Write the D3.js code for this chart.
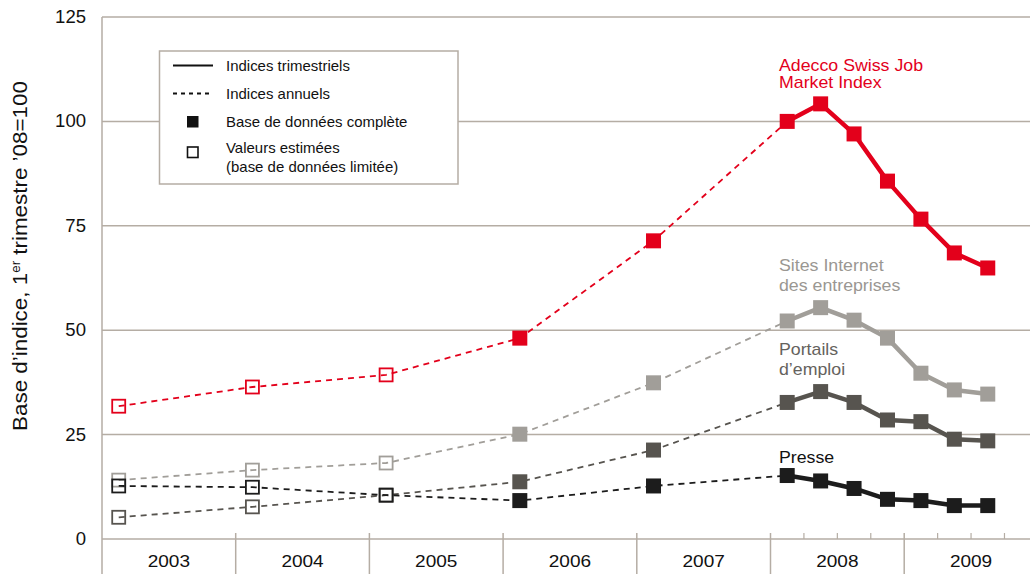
<!DOCTYPE html>
<html>
<head>
<meta charset="utf-8">
<script src="https://cdn.jsdelivr.net/npm/d3@7"></script>
<style>
  body { margin: 0; background: #fff; }
  svg { display: block; font-family: "Liberation Sans", Arial, sans-serif; }
</style>
</head>
<body>
<svg width="1030" height="574"></svg>
<script>
var years = [2003, 2004, 2005, 2006, 2007, 2008, 2009];
var annualYears = [2003, 2004, 2005, 2006, 2007];
var annualEstimated = [true, true, true, false, false];
var quarterLabels = ["2008-T1", "2008-T2", "2008-T3", "2008-T4", "2009-T1", "2009-T2", "2009-T3"];
var yTicks = [0, 25, 50, 75, 100, 125];

var adeccoAnnual = [31.8, 36.4, 39.3, 48.1, 71.4];
var adeccoQuarterly = [100, 104.2, 97, 85.7, 76.6, 68.5, 64.9];
var sitesAnnual = [14.1, 16.5, 18.2, 25.1, 37.4];
var sitesQuarterly = [52.2, 55.4, 52.4, 48.1, 39.7, 35.7, 34.7];
var portailsAnnual = [5.2, 7.7, 10.5, 13.7, 21.3];
var portailsQuarterly = [32.7, 35.3, 32.7, 28.5, 28.1, 23.9, 23.5];
var presseAnnual = [12.7, 12.4, 10.5, 9.2, 12.7];
var presseQuarterly = [15.2, 13.9, 12.1, 9.5, 9.2, 8.0, 8.0];

(function() {
    'use strict';
    var svg = d3.select("svg"),
        gridColor = "#b5ada4",
        x = d3.scaleLinear().domain([2003, 2010]).range([102, 102 + 7 * 133.7]),
        y = d3.scaleLinear().domain([0, 125]).range([539, 17]);

    function quarterPos(label) {
        var p = label.split("-T");
        return +p[0] + (+p[1] - 0.5) / 4;
    }

    // the source font is a bit wider than Liberation Sans
    function place(px, py, sx) {
        return "translate(" + px + "," + py + ") scale(" + sx + ",1)";
    }

    var series = [
        {name: ["Adecco Swiss Job", "Market Index"], color: "#e3001b", labelColor: "#e3001b",
            annual: adeccoAnnual, quarterly: adeccoQuarterly, labelY: [71, 88]},
        {name: ["Sites Internet", "des entreprises"], color: "#a19e99", labelColor: "#9a9792",
            annual: sitesAnnual, quarterly: sitesQuarterly, labelY: [271, 291]},
        {name: ["Portails", "d\u2019emploi"], color: "#57544f", labelColor: "#65625d",
            annual: portailsAnnual, quarterly: portailsQuarterly, labelY: [355, 375]},
        {name: ["Presse"], color: "#1c1c1c", labelColor: "#111",
            annual: presseAnnual, quarterly: presseQuarterly, labelY: [463]}
    ];

    // grid
    svg.append("g").selectAll("line").data(yTicks).enter().append("line")
        .attr("x1", 102).attr("x2", 1030)
        .attr("y1", function(d) { return y(d); })
        .attr("y2", function(d) { return y(d); })
        .attr("stroke", gridColor).attr("stroke-width", 1.5);

    svg.append("line").attr("x1", 102).attr("x2", 102).attr("y1", y(125)).attr("y2", 574)
        .attr("stroke", gridColor).attr("stroke-width", 1.5);

    svg.append("g").selectAll("text").data(yTicks).enter().append("text")
        .attr("transform", function(d) { return place(86, y(d) + 6, 1.03); })
        .attr("text-anchor", "end").attr("font-size", 18).attr("fill", "#111")
        .text(function(d) { return d; });

    // x axis: year separators + quarter ticks
    svg.append("g").selectAll("line").data(years.slice(1)).enter().append("line")
        .attr("x1", function(d) { return x(d); }).attr("x2", function(d) { return x(d); })
        .attr("y1", 533).attr("y2", 574)
        .attr("stroke", gridColor).attr("stroke-width", 1.5);

    var qTicks = [2008.25, 2008.5, 2008.75, 2009.25, 2009.5, 2009.75];
    svg.append("g").selectAll("line").data(qTicks).enter().append("line")
        .attr("x1", function(d) { return x(d); }).attr("x2", function(d) { return x(d); })
        .attr("y1", 533).attr("y2", 539)
        .attr("stroke", gridColor).attr("stroke-width", 1.2);

    svg.append("g").selectAll("text").data(years).enter().append("text")
        .attr("transform", function(d) { return place(x(d + 0.5), 567, 1.12); })
        .attr("text-anchor", "middle").attr("font-size", 17).attr("fill", "#111")
        .text(function(d) { return d; });

    // y title
    var yt = svg.append("text")
        .attr("transform", "translate(27,256) rotate(-90) scale(1.12,1)")
        .attr("text-anchor", "middle").attr("font-size", 20).attr("fill", "#111");
    yt.append("tspan").text("Base d\u2019indice, 1");
    yt.append("tspan").attr("font-size", 12).attr("dy", -7).text("er");
    yt.append("tspan").attr("dy", 7).text(" trimestre \u201908=100");

    // legend
    var lg = svg.append("g");
    lg.append("rect").attr("x", 159.5).attr("y", 51).attr("width", 298.5).attr("height", 133)
        .attr("fill", "#fff").attr("stroke", gridColor).attr("stroke-width", 1.5);
    lg.append("line").attr("x1", 173).attr("x2", 213).attr("y1", 65.5).attr("y2", 65.5)
        .attr("stroke", "#111").attr("stroke-width", 1.8);
    lg.append("line").attr("x1", 173).attr("x2", 213).attr("y1", 93.5).attr("y2", 93.5)
        .attr("stroke", "#111").attr("stroke-width", 1.8).attr("stroke-dasharray", "4,4");
    lg.append("rect").attr("x", 187).attr("y", 116).attr("width", 11.5).attr("height", 11.5)
        .attr("fill", "#111");
    lg.append("rect").attr("x", 187.5).attr("y", 147).attr("width", 10.5).attr("height", 10.5)
        .attr("fill", "none").attr("stroke", "#111").attr("stroke-width", 1.6);
    var legendTexts = [["Indices trimestriels", 71], ["Indices annuels", 99],
        ["Base de donn\u00e9es compl\u00e8te", 127], ["Valeurs estim\u00e9es", 153],
        ["(base de donn\u00e9es limit\u00e9e)", 172]];
    lg.selectAll("text").data(legendTexts).enter().append("text")
        .attr("transform", function(d) { return place(226, d[1], 1.07); })
        .attr("font-size", 14).attr("fill", "#111")
        .text(function(d) { return d[0]; });

    var line = d3.line().x(function(d) { return x(d.t); }).y(function(d) { return y(d.v); });

    series.forEach(function(s) {
        var g = svg.append("g"),
            ann = s.annual.map(function(v, i) { return {t: annualYears[i] + 0.125, v: v, est: annualEstimated[i]}; }),
            qtr = s.quarterly.map(function(v, i) { return {t: quarterPos(quarterLabels[i]), v: v}; });

        g.append("path").datum(ann.concat([qtr[0]]))
            .attr("d", line).attr("fill", "none").attr("stroke", s.color)
            .attr("stroke-width", 1.8).attr("stroke-dasharray", "6,5");
        g.append("path").datum(qtr)
            .attr("d", line).attr("fill", "none").attr("stroke", s.color)
            .attr("stroke-width", 4.5).attr("stroke-linejoin", "round");

        g.selectAll("rect.a").data(ann).enter().append("rect")
            .attr("x", function(d) { return x(d.t) - (d.est ? 6.5 : 7.5); })
            .attr("y", function(d) { return y(d.v) - (d.est ? 6.5 : 7.5); })
            .attr("width", function(d) { return d.est ? 13 : 15; })
            .attr("height", function(d) { return d.est ? 13 : 15; })
            .attr("fill", function(d) { return d.est ? "none" : s.color; })
            .attr("stroke", function(d) { return d.est ? s.color : "none"; })
            .attr("stroke-width", 1.8);
        g.selectAll("rect.q").data(qtr).enter().append("rect")
            .attr("x", function(d) { return x(d.t) - 7.5; })
            .attr("y", function(d) { return y(d.v) - 7.5; })
            .attr("width", 15).attr("height", 15)
            .attr("fill", s.color);

        g.selectAll("text.lbl").data(s.name).enter().append("text")
            .attr("transform", function(d, i) { return place(779, s.labelY[i], 1.11); })
            .attr("font-size", 16).attr("fill", s.labelColor)
            .text(function(d) { return d; });
    });
})();
</script>
</body>
</html>
